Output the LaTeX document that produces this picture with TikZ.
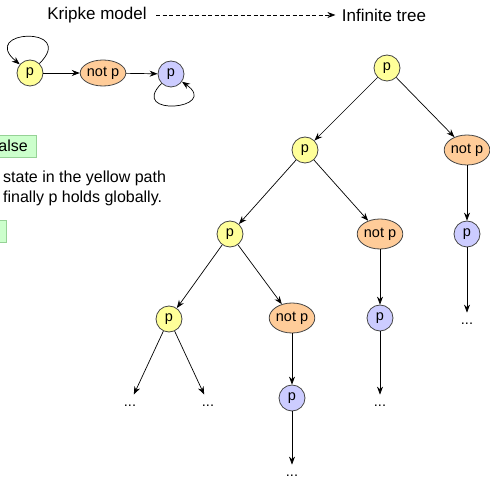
\documentclass[tikz,border=0pt]{standalone}
\usepackage{fontspec}
\setmainfont{Liberation Sans}
\usepackage{tikz}
\usetikzlibrary{arrows.meta,shapes.geometric}
\definecolor{pyellow}{RGB}{255,255,153}
\definecolor{npeach}{RGB}{255,204,153}
\definecolor{pblue}{RGB}{204,204,255}
\definecolor{notegreen}{RGB}{204,255,204}
\definecolor{noteedge}{RGB}{150,210,150}
\definecolor{edgegray}{RGB}{70,70,70}

\begin{document}
\begin{tikzpicture}[
    x=1pt, y=1pt,
    font=\fontsize{14.5}{16}\selectfont,
    state/.style={draw=edgegray, line width=0.8pt, inner sep=0pt},
    ps/.style={state, circle, fill=pyellow, minimum size=26pt},
    qs/.style={state, circle, fill=pblue, minimum size=26pt},
    nps/.style={state, ellipse, fill=npeach, minimum width=44pt,
      minimum height=30pt},
    more/.style={inner sep=0pt, anchor=base},
    arr/.style={-{Stealth[length=8pt,width=6pt]}, line width=0.7pt},
    note/.style={draw=noteedge, fill=notegreen, inner sep=0pt,
      inner xsep=8pt, minimum height=22pt, font=\fontsize{16}{19}\selectfont},
    big/.style={font=\fontsize{17}{20}\selectfont},
    txt/.style={font=\fontsize{16}{19}\selectfont, inner sep=0pt}
  ]
  \useasboundingbox (0,0) rectangle (490,-478);
  \clip (0,0) rectangle (490,-478);

  % heading
  \node[big] (kripke) at (97,-15) {Kripke model};
  \node[big] (infinite) at (384,-15) {Infinite tree};
  \draw[arr, dash pattern=on 4pt off 2.5pt, shorten <=6pt, shorten >=3pt]
    (kripke) -- (infinite);

  % kripke structure
  \node[ps] (k1) at (30,-73) {p};
  \node[nps, minimum width=43pt, minimum height=26pt] (k2) at (103,-73)
    {not p};
  \node[qs] (k3) at (171,-74) {p};
  \draw[arr] (k1) -- (k2);
  \draw[arr] (k2) -- (k3);
  \draw[arr] (k1) to[out=45, in=140, looseness=7] (k1);
  \draw[arr] (k3) to[out=225, in=325, looseness=6] (k3);

  % notes on the left
  \node[note, anchor=east] (falsebox) at (36,-146) {alse};
  \node[txt, anchor=base west] (line1) at (3,-183)
    {state in the yellow path};
  \node[txt, anchor=base west] (line2) at (3,-203)
    {finally p holds globally.};
  \node[note, anchor=north east, minimum width=20pt] (nextbox) at (6,-220) {};

  % unfolded tree
  \node[ps] (t) at (387,-68) {p};
  \node[ps] (t1) at (305,-150) {p};
  \node[nps] (t2) at (467,-150) {not p};
  \node[ps] (t11) at (230,-234) {p};
  \node[nps] (t12) at (380,-234) {not p};
  \node[qs] (t22) at (467,-234) {p};
  \node[ps] (t111) at (169,-319) {p};
  \node[nps] (t112) at (292,-318) {not p};
  \node[qs] (t122) at (380,-318) {p};
  \node[qs] (t1122) at (292,-398) {p};
  \node[more] (d222) at (467,-324) {\strut...};
  \node[more] (d1111) at (130,-406) {\strut...};
  \node[more] (d1112) at (208,-406) {\strut...};
  \node[more] (d1222) at (380,-406) {\strut...};
  \node[more] (d11222) at (292,-476) {\strut...};

  \draw[arr] (t) -- (t1);
  \draw[arr] (t) -- (t2);
  \draw[arr] (t1) -- (t11);
  \draw[arr] (t1) -- (t12);
  \draw[arr] (t2) -- (t22);
  \draw[arr] (t11) -- (t111);
  \draw[arr] (t11) -- (t112);
  \draw[arr] (t12) -- (t122);
  \draw[arr] (t22) -- (d222);
  \draw[arr] (t111) -- (d1111);
  \draw[arr] (t111) -- (d1112);
  \draw[arr] (t112) -- (t1122);
  \draw[arr] (t122) -- (d1222);
  \draw[arr] (t1122) -- (d11222);
\end{tikzpicture}
\end{document}
